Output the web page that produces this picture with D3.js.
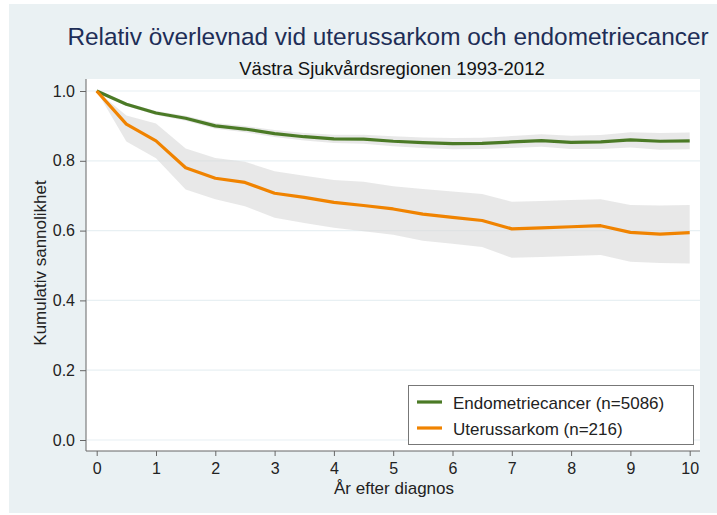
<!DOCTYPE html>
<html>
<head>
<meta charset="utf-8">
<script src="https://cdn.jsdelivr.net/npm/d3@7"></script>
<style>
  body { margin: 0; background: #fff; }
  text { font-family: "Liberation Sans", Arial, sans-serif; }
</style>
</head>
<body>
<div id="container"></div>
<script>
// years after diagnosis, every half year
let years = [0, 0.5, 1, 1.5, 2, 2.5, 3, 3.5, 4, 4.5, 5, 5.5, 6, 6.5, 7, 7.5, 8, 8.5, 9, 9.5, 10]

let endoEst = [1.0, 0.962, 0.937, 0.922, 0.900, 0.891, 0.878, 0.869, 0.863, 0.862, 0.856, 0.852, 0.849, 0.850, 0.854, 0.858, 0.853, 0.854, 0.860, 0.856, 0.857]
let endoLo  = [1.0, 0.957, 0.931, 0.915, 0.892, 0.882, 0.868, 0.858, 0.851, 0.849, 0.842, 0.837, 0.833, 0.834, 0.837, 0.840, 0.834, 0.834, 0.838, 0.832, 0.833]
let endoHi  = [1.0, 0.967, 0.943, 0.929, 0.908, 0.900, 0.888, 0.880, 0.875, 0.875, 0.870, 0.867, 0.865, 0.866, 0.871, 0.876, 0.872, 0.874, 0.882, 0.880, 0.881]

let sarkEst = [1.0, 0.905, 0.857, 0.780, 0.750, 0.738, 0.707, 0.695, 0.681, 0.672, 0.662, 0.647, 0.638, 0.629, 0.605, 0.608, 0.611, 0.614, 0.595, 0.590, 0.594]
let sarkLo  = [1.0, 0.855, 0.807, 0.718, 0.690, 0.670, 0.637, 0.622, 0.608, 0.598, 0.588, 0.571, 0.562, 0.553, 0.522, 0.524, 0.527, 0.530, 0.511, 0.507, 0.506]
let sarkHi  = [1.0, 0.930, 0.907, 0.835, 0.808, 0.797, 0.770, 0.757, 0.745, 0.740, 0.727, 0.719, 0.712, 0.705, 0.683, 0.685, 0.688, 0.690, 0.673, 0.672, 0.673]

let xTicks = [0, 1, 2, 3, 4, 5, 6, 7, 8, 9, 10]
let yTicks = [0, 0.2, 0.4, 0.6, 0.8, 1.0]

let seriesNames = ["Endometriecancer (n=5086)", "Uterussarkom (n=216)"]
let seriesColors = ["#4b7a26", "#f08300"]

let W = 717, H = 515

let svg = d3.select("#container").append("svg")
    .attr("width", W)
    .attr("height", H)

// outer graph region
svg.append("rect")
    .attr("x", 9).attr("y", 4)
    .attr("width", W - 9).attr("height", 509)
    .attr("fill", "#eaf1f3")

let plot = {left: 86, right: 700, top: 79, bottom: 451}

svg.append("rect")
    .attr("x", plot.left).attr("y", plot.top)
    .attr("width", plot.right - plot.left).attr("height", plot.bottom - plot.top)
    .attr("fill", "#ffffff")

let xScale = d3.scaleLinear().domain([0, 10]).range([96.7, 689.7])
let yScale = d3.scaleLinear().domain([0, 1]).range([440, 91])

// grid
svg.append("g").selectAll("line")
    .data(yTicks)
    .join("line")
    .attr("x1", plot.left + 1).attr("x2", plot.right)
    .attr("y1", d => yScale(d)).attr("y2", d => yScale(d))
    .attr("stroke", "#e8f0f3")
    .attr("stroke-width", 1.2)

// axes
let yAxis = d3.axisLeft(yScale)
    .tickValues(yTicks)
    .tickFormat(d3.format(".1f"))
    .tickSize(6)
    .tickPadding(5)

let gy = svg.append("g")
    .attr("transform", `translate(${plot.left},0)`)
    .call(yAxis)
gy.select(".domain").attr("d", `M0,${plot.top}V${plot.bottom}`).attr("stroke", "#666")
gy.selectAll(".tick line").attr("stroke", "#666")
gy.selectAll(".tick text").attr("font-size", 16).attr("fill", "#222")
    .style("font-family", "Liberation Sans, Arial, sans-serif")

let xAxis = d3.axisBottom(xScale)
    .tickValues(xTicks)
    .tickSize(5)
    .tickPadding(7)

let gx = svg.append("g")
    .attr("transform", `translate(0,${plot.bottom})`)
    .call(xAxis)
gx.select(".domain").attr("d", `M${plot.left},0H${plot.right}`).attr("stroke", "#666")
gx.selectAll(".tick line").attr("stroke", "#666")
gx.selectAll(".tick text").attr("font-size", 16).attr("fill", "#222")
    .style("font-family", "Liberation Sans, Arial, sans-serif")

// confidence bands
let band = d3.area()
    .x(d => xScale(d.t))
    .y0(d => yScale(d.lo))
    .y1(d => yScale(d.hi))

let line = d3.line()
    .x(d => xScale(d.t))
    .y(d => yScale(d.v))

let series = [
    {est: endoEst, lo: endoLo, hi: endoHi},
    {est: sarkEst, lo: sarkLo, hi: sarkHi},
]

series.forEach((s) => {
    let rows = years.map((t, i) => ({t: t, v: s.est[i], lo: s.lo[i], hi: s.hi[i]}))
    svg.append("path")
        .datum(rows)
        .attr("d", band)
        .attr("fill", "#d9d9d9")
        .attr("fill-opacity", 0.6)
})

series.forEach((s, k) => {
    let rows = years.map((t, i) => ({t: t, v: s.est[i]}))
    svg.append("path")
        .datum(rows)
        .attr("d", line)
        .attr("fill", "none")
        .attr("stroke", seriesColors[k])
        .attr("stroke-width", 3.2)
        .attr("stroke-linejoin", "round")
})

// legend
let lg = svg.append("g")
lg.append("rect")
    .attr("x", 408.5).attr("y", 385.5)
    .attr("width", 285).attr("height", 59)
    .attr("fill", "#fff")
    .attr("stroke", "#777")
    .attr("stroke-width", 1)

seriesNames.forEach((name, i) => {
    let yy = 402 + i * 26
    lg.append("line")
        .attr("x1", 417).attr("x2", 442)
        .attr("y1", yy).attr("y2", yy)
        .attr("stroke", seriesColors[i])
        .attr("stroke-width", 3.2)
    lg.append("text")
        .text(name)
        .attr("x", 453)
        .attr("y", yy + 7)
        .attr("font-size", 17)
        .attr("fill", "#222")
})

// titles
svg.append("text")
    .text("Relativ överlevnad vid uterussarkom och endometriecancer")
    .attr("x", 388)
    .attr("y", 45)
    .attr("text-anchor", "middle")
    .attr("font-size", 24.4)
    .attr("fill", "#1e2e57")

svg.append("text")
    .text("Västra Sjukvårdsregionen 1993-2012")
    .attr("x", 392)
    .attr("y", 75)
    .attr("text-anchor", "middle")
    .attr("font-size", 18.5)
    .attr("fill", "#111")

svg.append("text")
    .text("År efter diagnos")
    .attr("x", 394)
    .attr("y", 494)
    .attr("text-anchor", "middle")
    .attr("font-size", 17)
    .attr("fill", "#222")

svg.append("text")
    .text("Kumulativ sannolikhet")
    .attr("transform", "translate(46,263) rotate(-90)")
    .attr("text-anchor", "middle")
    .attr("font-size", 17)
    .attr("fill", "#222")
</script>
</body>
</html>
